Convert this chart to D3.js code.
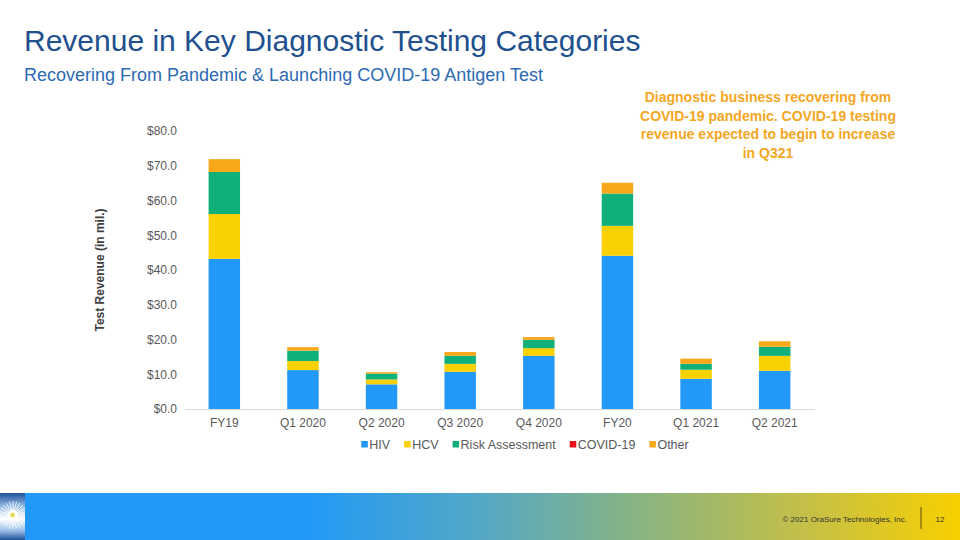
<!DOCTYPE html>
<html><head><meta charset="utf-8">
<script src="https://cdn.jsdelivr.net/npm/d3@7/dist/d3.min.js"></script>
<style>
body{margin:0;background:#fff;}
svg{display:block;font-family:"Liberation Sans",Arial,sans-serif;}
</style></head>
<body>
<svg id="c" width="960" height="540"></svg>
<script>
const categories = ["FY19","Q1 2020","Q2 2020","Q3 2020","Q4 2020","FY20","Q1 2021","Q2 2021"];
const seriesNames = ["HIV","HCV","Risk Assessment","COVID-19","Other"];
const seriesColors = ["#2299F8","#F9D000","#10B07A","#E8111A","#F9A81A"];
const hiv   = [43.2, 11.2, 7.1, 10.7, 15.3, 44.1, 8.7, 11.0];
const hcv   = [12.9, 2.6, 1.4, 2.3, 2.2, 8.6, 2.6, 4.3];
const risk  = [12.1, 3.0, 1.7, 2.3, 2.4, 9.3, 1.7, 2.6];
const covid = [0, 0, 0, 0, 0, 0, 0, 0];
const other = [3.7, 1.0, 0.4, 1.1, 0.8, 3.1, 1.5, 1.6];
const yTicks = [0,10,20,30,40,50,60,70,80];

const svg = d3.select("#c");
const defs = svg.append("defs");

// Title
svg.append("text").attr("x",24).attr("y",51).attr("font-size",30).attr("fill","#21508F")
  .text("Revenue in Key Diagnostic Testing Categories");
svg.append("text").attr("x",24).attr("y",81).attr("font-size",18).attr("fill","#2C6AB3")
  .text("Recovering From Pandemic & Launching COVID-19 Antigen Test");

// Annotation
const ann = ["Diagnostic business recovering from","COVID-19 pandemic. COVID-19 testing","revenue expected to begin to increase","in Q321"];
svg.append("g").selectAll("text").data(ann).join("text")
  .attr("x",768).attr("y",(d,i)=>102+i*18.5).attr("text-anchor","middle")
  .attr("font-size",14).attr("font-weight","bold").attr("fill","#F5A623").text(d=>d);

// Scales
const x = d3.scaleBand().domain(categories).range([185,814]).paddingInner(0.6).paddingOuter(0.3);
const y = d3.scaleLinear().domain([0,80]).range([409,131]);

const rows = categories.map((c,i)=>({cat:c,"HIV":hiv[i],"HCV":hcv[i],"Risk Assessment":risk[i],"COVID-19":covid[i],"Other":other[i]}));
const stack = d3.stack().keys(seriesNames)(rows);

svg.append("g").selectAll("g").data(stack).join("g")
  .attr("fill",(d,i)=>seriesColors[i])
  .selectAll("rect").data(d=>d).join("rect")
  .attr("x",d=>x(d.data.cat)).attr("width",x.bandwidth())
  .attr("y",d=>y(d[1])).attr("height",d=>Math.max(0,y(d[0])-y(d[1])));

// Y axis
const yAxis = svg.append("g").attr("transform","translate(185,0)")
  .call(d3.axisLeft(y).tickValues(yTicks).tickSize(0).tickPadding(8).tickFormat(d=>"$"+d3.format(".1f")(d)));
yAxis.select(".domain").remove();
yAxis.selectAll("text").attr("font-size",12).attr("fill","#595959").attr("font-family","Liberation Sans, Arial, sans-serif");

// X axis
const xAxis = svg.append("g").attr("transform","translate(0,409)")
  .call(d3.axisBottom(x).tickSize(0).tickPadding(9));
xAxis.select(".domain").attr("stroke","#D9D9D9").attr("stroke-width",1);
xAxis.selectAll("text").attr("font-size",12).attr("fill","#595959").attr("font-family","Liberation Sans, Arial, sans-serif");

// Y title
svg.append("text").attr("transform","translate(104,270) rotate(-90)").attr("text-anchor","middle")
  .attr("font-size",12).attr("font-weight","bold").attr("fill","#404040").text("Test Revenue (in mil.)");

// Legend
const lg = svg.append("g");
let lx = 0;
const items = [];
seriesNames.forEach((n,i)=>{
  const g = lg.append("g");
  g.append("rect").attr("x",0).attr("y",-8).attr("width",6.5).attr("height",6.5).attr("fill",seriesColors[i]);
  const t = g.append("text").attr("x",8).attr("y",0).attr("font-size",12.5).attr("fill","#595959").text(n);
  items.push({g,w:8+t.node().getComputedTextLength()});
});
const gap = 14;
const total = d3.sum(items,d=>d.w)+gap*(items.length-1);
lx = 525 - total/2;
items.forEach(it=>{ it.g.attr("transform",`translate(${lx},449)`); lx += it.w+gap; });

// Footer
const grad = defs.append("linearGradient").attr("id","fg").attr("x1","0").attr("x2","1").attr("y1","0").attr("y2","0");
[[0,"#2299F8"],[0.3,"#2299F8"],[0.49,"#55A8C4"],[0.67,"#8EB57C"],[0.84,"#C6C046"],[1,"#F8D000"]]
  .forEach(s=>grad.append("stop").attr("offset",s[0]).attr("stop-color",s[1]));
svg.append("rect").attr("x",25).attr("y",493).attr("width",935).attr("height",47).attr("fill","url(#fg)");

// Logo
const lgrad = defs.append("linearGradient").attr("id","lg").attr("x1","0").attr("x2","0").attr("y1","0").attr("y2","1");
[[0,"#1E4F9A"],[0.3,"#9CC0E8"],[0.55,"#FFFFFF"],[0.8,"#9CC0E8"],[1,"#1E4F9A"]]
  .forEach(s=>lgrad.append("stop").attr("offset",s[0]).attr("stop-color",s[1]));
svg.append("rect").attr("x",0).attr("y",493).attr("width",25).attr("height",47).attr("fill","url(#lg)");
defs.append("clipPath").attr("id","lc").append("rect").attr("x",0).attr("y",493).attr("width",25).attr("height",47);
const rays = d3.range(0,360,15);
svg.append("g").attr("clip-path","url(#lc)").selectAll("line").data(rays).join("line")
  .attr("x1",13).attr("y1",515).attr("x2",d=>13+14*Math.cos(d*Math.PI/180)).attr("y2",d=>515+14*Math.sin(d*Math.PI/180))
  .attr("stroke","#fff").attr("stroke-width",1).attr("opacity",0.85);
svg.append("circle").attr("cx",13).attr("cy",515).attr("r",5).attr("fill","#fff");
svg.append("circle").attr("cx",12.5).attr("cy",515).attr("r",2.3).attr("fill","#E8D640");

svg.append("text").attr("x",907).attr("y",522).attr("text-anchor","end").attr("font-size",8).attr("fill","#333")
  .text("© 2021 OraSure Technologies, Inc.");
svg.append("line").attr("x1",921).attr("x2",921).attr("y1",507).attr("y2",529).attr("stroke","#5a4a10").attr("stroke-width",1);
svg.append("text").attr("x",940).attr("y",522).attr("text-anchor","middle").attr("font-size",8).attr("fill","#333").text("12");
</script>
</body></html>
